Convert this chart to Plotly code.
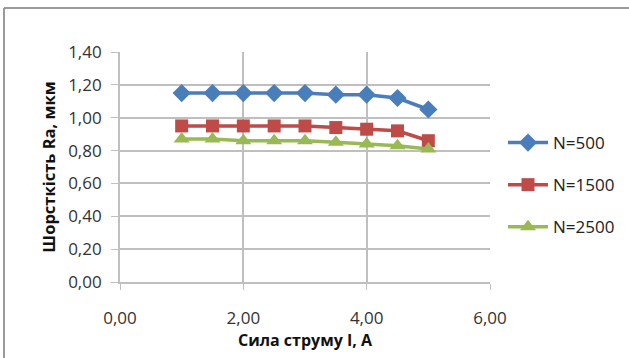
import plotly.graph_objects as go

# Current (A) and surface roughness Ra (µm) for three spindle speeds
current = [1.0, 1.5, 2.0, 2.5, 3.0, 3.5, 4.0, 4.5, 5.0]
ra_n500 = [1.15, 1.15, 1.15, 1.15, 1.15, 1.14, 1.14, 1.12, 1.05]
ra_n1500 = [0.95, 0.95, 0.95, 0.95, 0.95, 0.94, 0.93, 0.92, 0.86]
ra_n2500 = [0.87, 0.87, 0.86, 0.86, 0.86, 0.85, 0.84, 0.83, 0.81]

series = [
    ("N=500", ra_n500, "#4A7EBB", "diamond", 14),
    ("N=1500", ra_n1500, "#BE4B48", "square", 13),
    ("N=2500", ra_n2500, "#98B954", "triangle-up", 14),
]

W, H = 629, 358
L, R, T, B = 120, 139, 52, 76
pw, ph = W - L - R, H - T - B

fig = go.Figure()
for name, ys, color, symbol, size in series:
    fig.add_trace(go.Scatter(
        x=current, y=ys, name=name, legendgroup=name, mode="lines+markers",
        line=dict(color=color, width=3.5),
        marker=dict(symbol=symbol, size=size, color=color),
    ))

font = "Open Sans"
fig.update_layout(
    width=W, height=H,
    margin=dict(l=L, r=R, t=T, b=B, pad=0, autoexpand=False),
    paper_bgcolor="white", plot_bgcolor="white",
    separators=", ",
    font=dict(family=font, size=17, color="#222222"),
    showlegend=True,
    legend=dict(
        xref="container", yref="container",
        x=503 / W, y=1 - 185 / H, xanchor="left", yanchor="middle",
        font=dict(size=17, color="#222222"),
        itemwidth=40, tracegroupgap=17,
        bgcolor="rgba(0,0,0,0)",
    ),
    xaxis=dict(
        range=[0, 6], tickvals=[0, 2, 4, 6], tickformat=".2f",
        showgrid=True, gridcolor="#BFBFBF", gridwidth=1.8,
        zeroline=False, showline=True, linecolor="#BFBFBF", linewidth=1.8,
        ticks="outside", ticklen=6, tickcolor="#BFBFBF",
        ticklabelstandoff=14,
        tickfont=dict(size=17, color="#333333"),
        title=dict(text="<b>Сила струму I, А</b>", font=dict(size=16, color="#111111"), standoff=2),
    ),
    yaxis=dict(
        range=[0, 1.4], dtick=0.2, tickformat=".2f",
        showgrid=True, gridcolor="#BFBFBF", gridwidth=1.8,
        zeroline=False, showline=True, linecolor="#BFBFBF", linewidth=1.8,
        ticks="outside", ticklen=7, tickcolor="#BFBFBF",
        ticklabelstandoff=6,
        tickfont=dict(size=17, color="#333333"),
        title=dict(text="<b>Шорсткість Ra, мкм</b>", font=dict(size=16.5, color="#111111"), standoff=8),
    ),
)

# Outer chart frame (left and top edges)
def px_x(px):
    return (px - L) / pw

def px_y(py):
    return (H - B - py) / ph

fig.add_shape(type="line", xref="paper", yref="paper",
              x0=px_x(4), y0=px_y(8), x1=px_x(4), y1=px_y(358),
              line=dict(color="#9A9A9A", width=2))
fig.add_shape(type="line", xref="paper", yref="paper",
              x0=px_x(4), y0=px_y(8), x1=px_x(629), y1=px_y(8),
              line=dict(color="#9A9A9A", width=2))

fig.write_html("out.html")
